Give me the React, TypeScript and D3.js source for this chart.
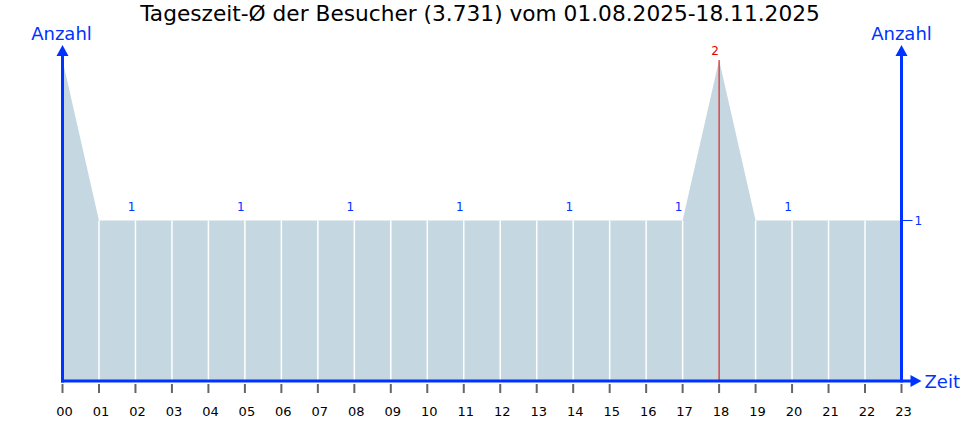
import React from "react";
import * as d3 from "d3";

const hours = ["00","01","02","03","04","05","06","07","08","09","10","11","12","13","14","15","16","17","18","19","20","21","22","23"];
const visitors = [2,1,1,1,1,1,1,1,1,1,1,1,1,1,1,1,1,1,2,1,1,1,1,1];
const labelledHours = [2,5,8,11,14,17,20];
const peakHour = 18;
const rightTicks = [1];
const title = "Tageszeit-Ø der Besucher (3.731) vom 01.08.2025-18.11.2025";

const W = 970, H = 440;
const BLUE = "#0033ff";
const FILL = "#c5d7e0";
const FONT = "DejaVu Sans, Verdana, sans-serif";

export default function App() {
  const x = d3.scaleLinear().domain([0, 23]).range([62.5, 901.5]);
  const y = d3.scaleLinear().domain([0, 2]).range([381, 60]);
  const area = d3.area<number>()
    .x((_, i) => x(i))
    .y0(y(0))
    .y1((d) => y(d));
  const x0 = x(0), x1 = x(23), yb = y(0);

  return (
    <svg width={W} height={H} style={{ position: "absolute", left: 0, top: 0, background: "#fff" }} fontFamily={FONT}>
      <text x={480} y={21} textAnchor="middle" fontSize={21.7} fill="#000">{title}</text>
      <path d={area(visitors) || ""} fill={FILL} />
      {visitors.map((v, i) =>
        i > 0 && i < 23 ? (
          <line key={i} x1={x(i)} x2={x(i)} y1={y(v)} y2={yb}
            stroke={i === peakHour ? "#e00000" : "#fff"} strokeWidth={i === peakHour ? 1 : 1.5} />
        ) : null
      )}
      {labelledHours.map((h) => (
        <text key={h} x={x(h) - 4} y={y(visitors[h]) - 10} textAnchor="middle" fontSize={12} fill={BLUE}>{visitors[h]}</text>
      ))}
      <text x={x(peakHour) - 4} y={y(visitors[peakHour]) - 5} textAnchor="middle" fontSize={12} fill="#e00000">{visitors[peakHour]}</text>
      {hours.map((h, i) => (
        <g key={h}>
          <line x1={x(i)} x2={x(i)} y1={yb + 3} y2={yb + 12} stroke="#666" strokeWidth={2} />
          <text x={x(i) + 2} y={yb + 35} textAnchor="middle" fontSize={13} fill="#000">{h}</text>
        </g>
      ))}
      <line x1={x0} x2={x0} y1={yb + 1.5} y2={54} stroke={BLUE} strokeWidth={3} />
      <path d={`M${x0 - 6},${56} L${x0},${45} L${x0 + 6},${56} Z`} fill={BLUE} />
      <text x={x0 - 1} y={40} textAnchor="middle" fontSize={18} fill={BLUE}>Anzahl</text>
      <line x1={x1} x2={x1} y1={yb + 1.5} y2={54} stroke={BLUE} strokeWidth={3} />
      <path d={`M${x1 - 6},${56} L${x1},${45} L${x1 + 6},${56} Z`} fill={BLUE} />
      <text x={x1} y={40} textAnchor="middle" fontSize={18} fill={BLUE}>Anzahl</text>
      {rightTicks.map((t) => (
        <g key={t}>
          <line x1={x1} x2={x1 + 11} y1={y(t)} y2={y(t)} stroke={BLUE} strokeWidth={1} />
          <text x={x1 + 13} y={y(t) + 4} fontSize={12} fill={BLUE}>{t}</text>
        </g>
      ))}
      <line x1={x0 - 1.5} x2={x1 + 10} y1={yb} y2={yb} stroke={BLUE} strokeWidth={3} />
      <path d={`M${x1 + 9},${yb - 6} L${x1 + 20},${yb} L${x1 + 9},${yb + 6} Z`} fill={BLUE} />
      <text x={x1 + 23} y={yb + 7} fontSize={18} fill={BLUE}>Zeit</text>
    </svg>
  );
}
